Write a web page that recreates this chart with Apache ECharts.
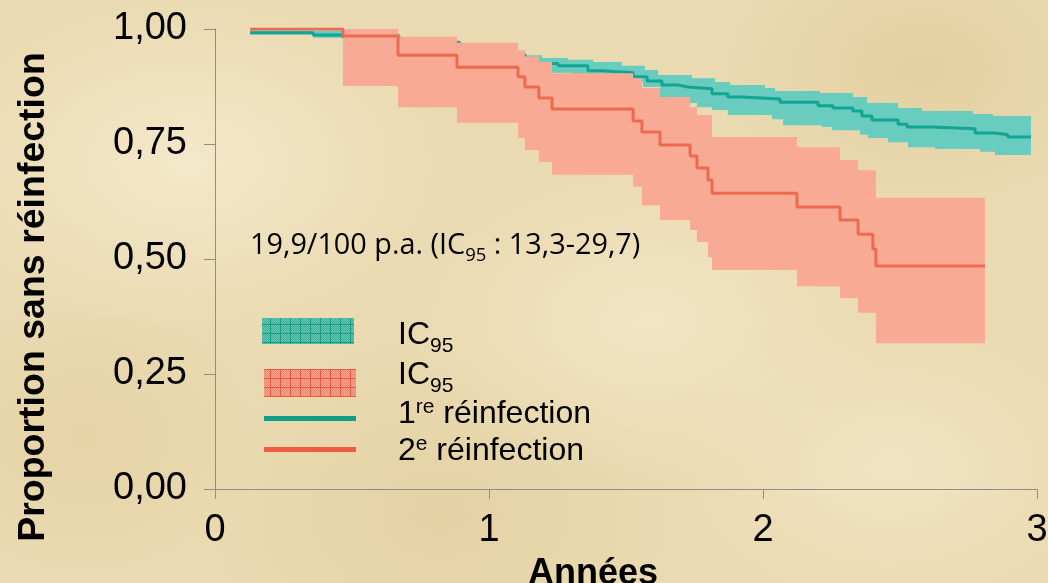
<!DOCTYPE html>
<html>
<head>
<meta charset="utf-8">
<script src="https://cdn.jsdelivr.net/npm/echarts@6/dist/echarts.min.js"></script>
<style>
html,body{margin:0;padding:0;}
body{width:1048px;height:583px;overflow:hidden;background-color:#EADAB1;
background-image:
 radial-gradient(ellipse 260px 170px at 18% 28%, rgba(247,238,212,0.7), rgba(247,238,212,0)),
 radial-gradient(ellipse 240px 160px at 62% 55%, rgba(246,236,208,0.6), rgba(246,236,208,0)),
 radial-gradient(ellipse 200px 140px at 88% 12%, rgba(222,200,148,0.55), rgba(222,200,148,0)),
 radial-gradient(ellipse 240px 180px at 42% 88%, rgba(224,203,154,0.5), rgba(224,203,154,0)),
 radial-gradient(ellipse 180px 140px at 8% 75%, rgba(226,205,156,0.5), rgba(226,205,156,0)),
 radial-gradient(ellipse 220px 150px at 85% 80%, rgba(245,234,206,0.6), rgba(245,234,206,0));}
#chart{width:1048px;height:583px;}
</style>
</head>
<body>
<div id="chart"></div>
<script>
// ---------- data ----------
const xTickLabels = ['0', '1', '2', '3'];
const yTickLabels = ['0,00', '0,25', '0,50', '0,75', '1,00'];

// 1re réinfection : Kaplan-Meier curve [years, proportion]
const tealLine = [[0.128,0.992],[0.358,0.987],[0.467,0.982],[0.675,0.970],[0.894,0.958],[1.040,0.945],[1.131,0.925],[1.252,0.920],[1.361,0.909],[1.416,0.905],[1.526,0.896],[1.577,0.887],[1.631,0.878],[1.690,0.874],[1.726,0.870],[1.814,0.859],[1.872,0.852],[1.923,0.848],[2.062,0.841],[2.201,0.833],[2.255,0.828],[2.328,0.822],[2.361,0.811],[2.398,0.802],[2.493,0.793],[2.526,0.787],[2.617,0.783],[2.774,0.774],[2.847,0.770],[2.894,0.765],[2.978,0.765]];
// 1re réinfection : IC95 upper / lower bounds
const tealUpper = [[0.128,0.997],[0.358,0.996],[0.467,0.990],[0.675,0.975],[0.894,0.962],[1.040,0.952],[1.131,0.943],[1.193,0.937],[1.288,0.933],[1.380,0.928],[1.485,0.920],[1.569,0.911],[1.617,0.900],[1.741,0.893],[1.825,0.885],[1.880,0.878],[2.007,0.872],[2.044,0.865],[2.208,0.861],[2.328,0.852],[2.380,0.839],[2.493,0.828],[2.580,0.822],[2.766,0.815],[2.839,0.811],[2.978,0.811]];
const tealLower = [[0.128,0.988],[0.358,0.981],[0.467,0.972],[0.675,0.955],[0.894,0.940],[1.040,0.925],[1.131,0.905],[1.300,0.895],[1.450,0.885],[1.562,0.874],[1.624,0.852],[1.726,0.839],[1.759,0.830],[1.814,0.824],[1.872,0.813],[2.033,0.804],[2.073,0.791],[2.215,0.787],[2.252,0.780],[2.354,0.770],[2.383,0.763],[2.456,0.754],[2.529,0.743],[2.628,0.739],[2.792,0.733],[2.847,0.726],[2.978,0.726]];

// 2e réinfection : Kaplan-Meier curve [years, proportion]
const redLine = [[0.128,1.000],[0.467,0.985],[0.668,0.943],[0.883,0.917],[1.106,0.896],[1.131,0.874],[1.182,0.850],[1.230,0.826],[1.526,0.800],[1.558,0.776],[1.624,0.748],[1.734,0.724],[1.759,0.698],[1.799,0.672],[1.814,0.643],[2.124,0.613],[2.281,0.585],[2.347,0.554],[2.401,0.522],[2.412,0.485],[2.810,0.485]];
// 2e réinfection : IC95 upper / lower bounds
const redUpper = [[0.467,1.000],[0.668,0.983],[0.883,0.970],[1.106,0.954],[1.131,0.940],[1.182,0.928],[1.230,0.904],[1.526,0.893],[1.558,0.872],[1.624,0.852],[1.734,0.830],[1.759,0.813],[1.814,0.765],[2.124,0.743],[2.281,0.715],[2.347,0.693],[2.412,0.633],[2.810,0.633]];
const redLower = [[0.467,0.876],[0.668,0.830],[0.883,0.796],[1.106,0.763],[1.131,0.737],[1.182,0.711],[1.230,0.683],[1.526,0.657],[1.558,0.617],[1.624,0.585],[1.734,0.563],[1.759,0.537],[1.799,0.504],[1.814,0.476],[2.124,0.441],[2.281,0.415],[2.347,0.383],[2.412,0.317],[2.810,0.317]];

// ---------- styles ----------
const TEAL_BAND = '#68CCBE', TEAL_LINE = '#12A593';
const RED_BAND = '#F8AA94', RED_LINE = '#EE6A4F';
const AXIS = '#8E8E8E';
const SANS = '"Liberation Sans", Arial, sans-serif';

function stepPath(arr, api) {
  const pts = [];
  for (let i = 0; i < arr.length; i++) {
    pts.push(api.coord(arr[i]));
    if (i < arr.length - 1) pts.push(api.coord([arr[i + 1][0], arr[i][1]]));
  }
  return pts;
}
function bandRenderer(upper, lower, color) {
  return function (params, api) {
    const top = stepPath(upper, api);
    const bot = stepPath(lower, api).reverse();
    return { type: 'polygon', shape: { points: top.concat(bot) }, style: { fill: color } };
  };
}

function makePattern(base, line, dot) {
  const c = document.createElement('canvas');
  c.width = 10; c.height = 9;
  const g = c.getContext('2d');
  g.fillStyle = base; g.fillRect(0, 0, 10, 9);
  g.fillStyle = dot;
  for (let i = 0; i < 10; i++) for (let j = 0; j < 9; j++) if ((i + j) % 2 === 0) g.fillRect(i, j, 1, 1);
  g.fillStyle = line; g.fillRect(0, 0, 10, 1); g.fillRect(0, 0, 1, 9);
  return c;
}

const mctx = document.createElement('canvas').getContext('2d');
function tw(t, f) { mctx.font = f; return mctx.measureText(t).width; }
function run(x, y, segs) {
  const out = []; let cx = x;
  segs.forEach(s => {
    out.push({ type: 'text', x: cx, y: y + (s.dy || 0), silent: true, z: 100,
      style: { text: s.t, font: s.f, fill: '#000', textAlign: 'left', verticalAlign: 'middle', textVerticalAlign: 'middle' } });
    cx += tw(s.t, s.f);
  });
  return out;
}

const LEG = '32px ' + SANS, LEGS = '21px ' + SANS;
const ANN = '28.8px "Open Sans", sans-serif', ANNS = '18.5px "Open Sans", sans-serif';

const graphics = [].concat(
  [
    { type: 'text', x: 34, y: 297, rotation: Math.PI / 2, silent: true, z: 100,
      style: { text: 'Proportion sans réinfection', font: 'bold 37.5px ' + SANS, fill: '#000', textAlign: 'center', verticalAlign: 'middle', textVerticalAlign: 'middle' } },
    { type: 'text', x: 593, y: 574, silent: true, z: 100,
      style: { text: 'Années', font: 'bold 36px ' + SANS, fill: '#000', textAlign: 'center', verticalAlign: 'middle', textVerticalAlign: 'middle' } },
    { type: 'rect', shape: { x: 262, y: 318, width: 92, height: 26 }, silent: true, z: 100,
      style: { fill: { image: makePattern('#3FAE97', '#139D87', '#6BC6B2'), repeat: 'repeat' } } },
    { type: 'rect', shape: { x: 264, y: 369, width: 92, height: 28 }, silent: true, z: 100,
      style: { fill: { image: makePattern('#EE8570', '#E95A41', '#F3A690'), repeat: 'repeat' } } },
    { type: 'rect', shape: { x: 264, y: 416, width: 92, height: 5 }, silent: true, z: 100, style: { fill: '#109E89' } },
    { type: 'rect', shape: { x: 264, y: 447, width: 92, height: 5 }, silent: true, z: 100, style: { fill: '#EE5C43' } }
  ],
  run(398, 335, [{ t: 'IC', f: LEG }, { t: '95', f: LEGS, dy: 11 }]),
  run(398, 375, [{ t: 'IC', f: LEG }, { t: '95', f: LEGS, dy: 11 }]),
  run(398, 414, [{ t: '1', f: LEG }, { t: 're', f: LEGS, dy: -7 }, { t: ' réinfection', f: LEG }]),
  run(398, 451, [{ t: '2', f: LEG }, { t: 'e', f: LEGS, dy: -7 }, { t: ' réinfection', f: LEG }]),
  run(250, 246, [{ t: '19,9/100 p.a. (IC', f: ANN }, { t: '95', f: ANNS, dy: 10 }, { t: ' : 13,3-29,7)', f: ANN }])
);

const chart = echarts.init(document.getElementById('chart'), null, { renderer: 'canvas' });
chart.setOption({
  backgroundColor: 'transparent',
  animation: false,
  grid: { left: 215, right: 11, top: 29, bottom: 94, containLabel: false, outerBoundsMode: 'none' },
  xAxis: {
    type: 'value', min: 0, max: 3, interval: 1,
    axisLine: { show: true, onZero: false, lineStyle: { color: AXIS, width: 1 } },
    axisTick: { show: true, inside: false, length: 10, lineStyle: { color: AXIS } },
    splitLine: { show: false },
    axisLabel: { show: true, margin: 23, color: '#000', fontFamily: SANS, fontSize: 38,
      formatter: (v, i) => xTickLabels[i] }
  },
  yAxis: {
    type: 'value', min: 0, max: 1, interval: 0.25,
    axisLine: { show: true, onZero: false, lineStyle: { color: AXIS, width: 1 } },
    axisTick: { show: true, inside: false, length: 11, lineStyle: { color: AXIS } },
    splitLine: { show: false },
    axisLabel: { show: true, margin: 28, color: '#000', fontFamily: SANS, fontSize: 38,
      formatter: (v, i) => yTickLabels[i] }
  },
  series: [
    { name: 'IC95 1re', type: 'custom', renderItem: bandRenderer(tealUpper, tealLower, TEAL_BAND), data: [tealUpper[0]], z: 2, silent: true },
    { name: '1re réinfection', type: 'line', step: 'end', data: tealLine, showSymbol: false, symbol: 'none',
      lineStyle: { color: TEAL_LINE, width: 3 }, z: 3, silent: true },
    { name: 'IC95 2e', type: 'custom', renderItem: bandRenderer(redUpper, redLower, RED_BAND), data: [redUpper[0]], z: 4, silent: true },
    { name: '2e réinfection', type: 'line', step: 'end', data: redLine, showSymbol: false, symbol: 'none',
      lineStyle: { color: RED_LINE, width: 3 }, z: 5, silent: true }
  ],
  graphic: graphics
});
</script>
</body>
</html>
